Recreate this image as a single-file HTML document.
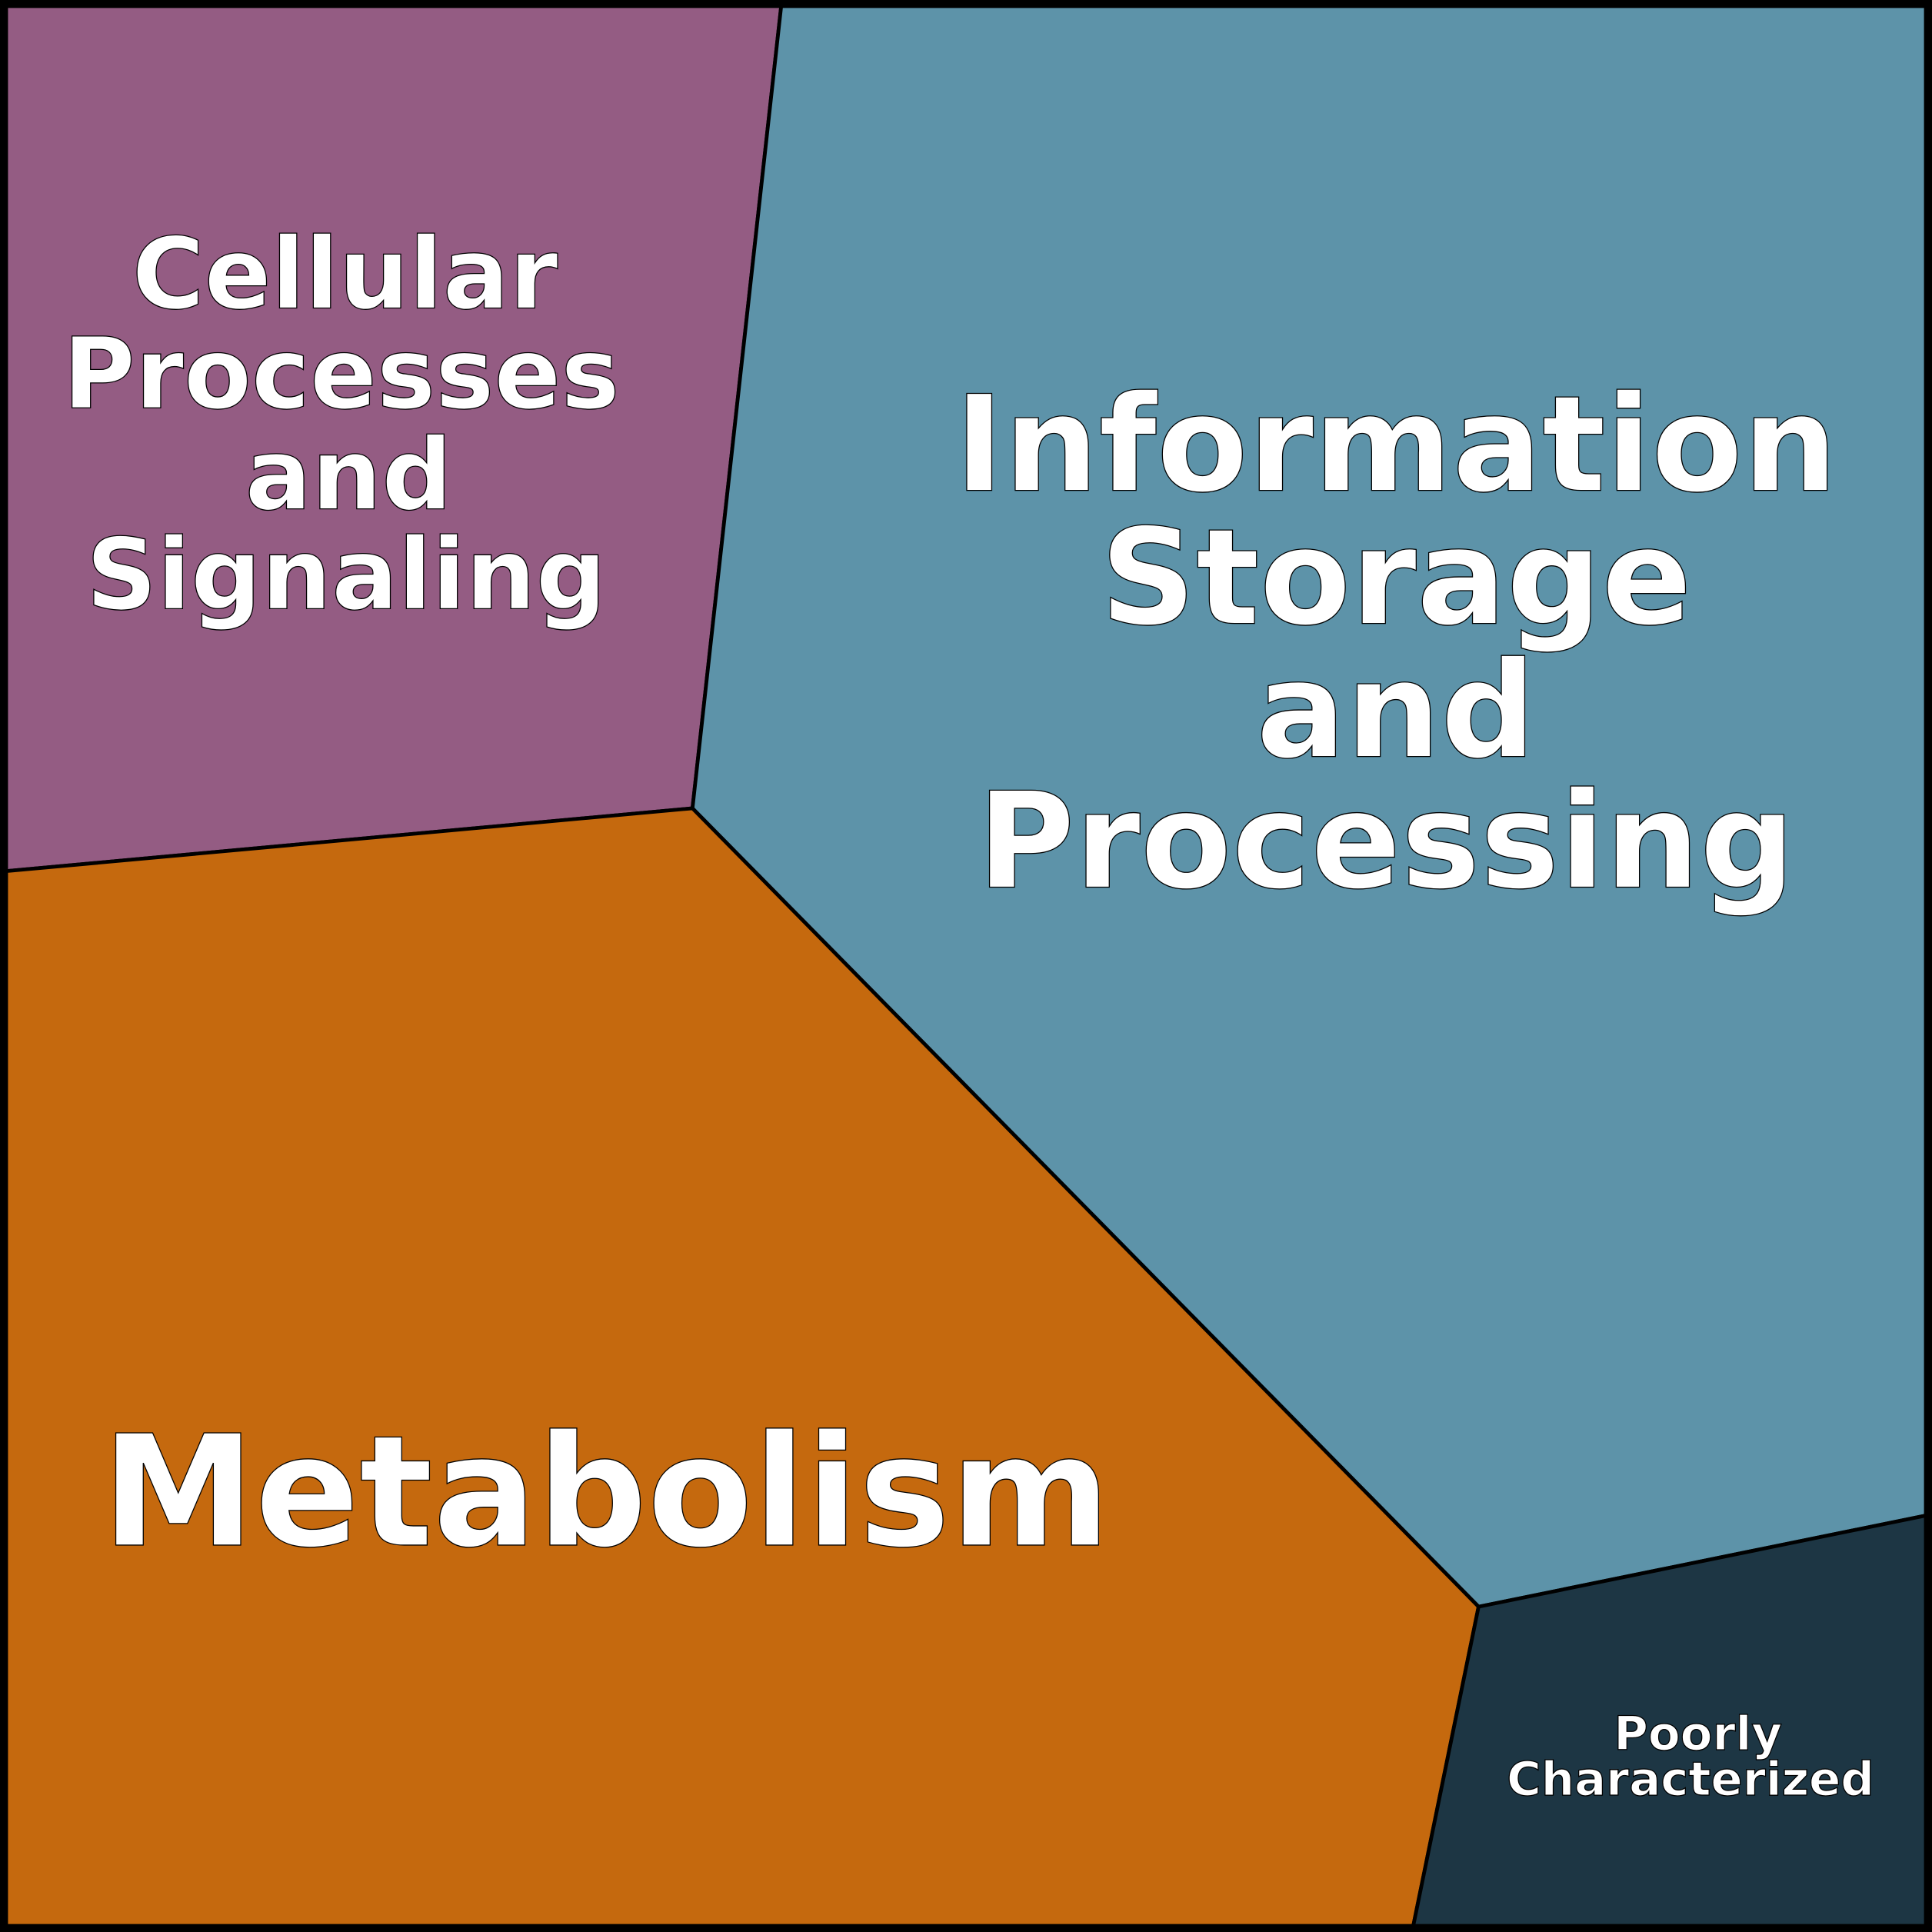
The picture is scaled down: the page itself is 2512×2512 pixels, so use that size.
<!DOCTYPE html>
<html><head><meta charset="utf-8"><style>
html,body{margin:0;padding:0;background:#000;}
svg{display:block;}
text{font-family:"DejaVu Sans","Liberation Sans",sans-serif;font-weight:bold;fill:#fff;stroke:#000;stroke-width:0.8;text-anchor:middle;}
</style></head><body>
<svg width="2512" height="2512" viewBox="0 0 1568 1568" xmlns="http://www.w3.org/2000/svg">
<rect x="0" y="0" width="1568" height="1568" fill="#000"/>
<polygon points="5,5 634,5 562,656 5,707" fill="#945C83" stroke="#000" stroke-width="3"/>
<polygon points="634,5 1563,5 1563,1230 1200,1304 562,656" fill="#5D93A9" stroke="#000" stroke-width="3"/>
<polygon points="5,707 562,656 1200,1304 1147,1563 5,1563" fill="#C5690E" stroke="#000" stroke-width="3"/>
<polygon points="1200,1304 1563,1230 1563,1563 1147,1563" fill="#1D3644" stroke="#000" stroke-width="3"/>
<rect x="2.5" y="2.5" width="1563" height="1563" fill="none" stroke="#000" stroke-width="6"/>
<g font-size="80">
<text x="280" y="250">Cellular</text>
<text x="277" y="331">Processes</text>
<text x="283" y="413">and</text>
<text x="281" y="494">Signaling</text>
</g>
<g font-size="108">
<text x="1133" y="398">Information</text>
<text x="1133" y="506">Storage</text>
<text x="1133" y="614">and</text>
<text x="1125" y="720">Processing</text>
</g>
<text x="492" y="1254" font-size="125">Metabolism</text>
<g font-size="38" style="stroke-width:0.4">
<text x="1378" y="1420">Poorly</text>
<text x="1372" y="1457">Characterized</text>
</g>
</svg>
</body></html>
